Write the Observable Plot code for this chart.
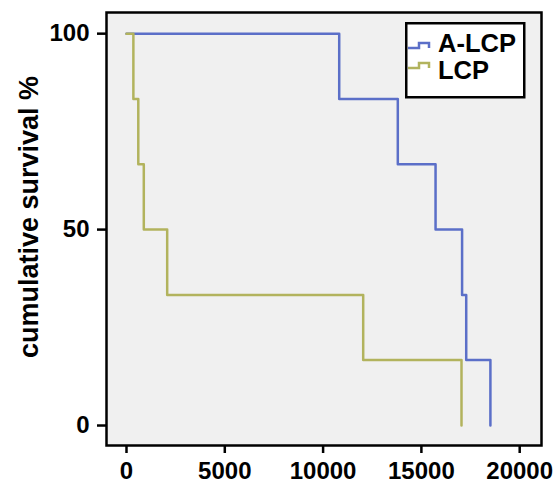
<!DOCTYPE html>
<html><head><meta charset="utf-8">
<script src="https://cdn.jsdelivr.net/npm/d3@7"></script>
<script src="https://cdn.jsdelivr.net/npm/@observablehq/plot@0.6"></script>
<style>
body{margin:0;background:#fff}
#wrap{position:relative;width:555px;height:483px}
#legend{position:absolute;left:405px;top:22px}
</style></head><body><div id="wrap"></div>
<script>
const groups = ["A-LCP", "LCP"];
const colors = ["#5b6fc8", "#b2b35d"];
const aTimes = [0, 10820, 13800, 15720, 17070, 17280, 18510];
const aSurv  = [100, 83.3, 66.7, 50, 33.3, 16.7, 0];
const lTimes = [0, 350, 600, 880, 2070, 12040, 17040];
const lSurv  = [100, 83.3, 66.7, 50, 33.3, 16.7, 0];
const xTicks = [0, 5000, 10000, 15000, 20000];
const yTicks = [0, 50, 100];
const yLabel = "cumulative survival %";

const data = [
  ...aTimes.map((t, i) => ({group: groups[0], time: t, surv: aSurv[i]})),
  ...lTimes.map((t, i) => ({group: groups[1], time: t, surv: lSurv[i]}))
];
const font = "'Liberation Sans', Arial, sans-serif";

const chart = Plot.plot({
  width: 555, height: 483,
  marginLeft: 106, marginRight: 14, marginTop: 12, marginBottom: 38,
  x: {domain: [-1017, 21109]},
  y: {domain: [-5.1, 105.4]},
  color: {domain: groups, range: colors},
  style: {fontFamily: font, fontSize: "24px", fontWeight: "bold", background: "#fff", color: "#000"},
  marks: [
    Plot.frame({fill: "#f0f0f0"}),
    Plot.line(data, {x: "time", y: "surv", stroke: "group", z: "group", curve: "step-after", strokeWidth: 2.5}),
    Plot.frame({stroke: "#000", strokeWidth: 2.5}),
    Plot.axisX({ticks: xTicks, tickFormat: d => String(d), tickSize: 8, tickPadding: 8, strokeWidth: 2.5, label: null}),
    Plot.axisY({ticks: yTicks, tickSize: 9, tickPadding: 8, strokeWidth: 2.5, label: null}),
    Plot.text([yLabel], {text: d => d, frameAnchor: "left", textAnchor: "middle", lineAnchor: "middle", rotate: -90, dx: -77, dy: -12, fontSize: 27, fontWeight: "bold"})
  ]
});
const wrap = document.getElementById("wrap");
wrap.appendChild(chart);

// legend inside the plot area
const ns = "http://www.w3.org/2000/svg";
const lg = document.createElementNS(ns, "svg");
lg.setAttribute("id", "legend");
lg.setAttribute("width", 122);
lg.setAttribute("height", 78);
const icons = ["M3,26 H14 V21 H24 V26", "M3,46 H14 V41 H24 V46"];
const baselines = [30, 56.5];
let html = `<rect x="1.25" y="1.25" width="118" height="74" fill="#fff" stroke="#000" stroke-width="2.5"/>`;
groups.forEach((g, i) => {
  html += `<path d="${icons[i]}" fill="none" stroke="${colors[i]}" stroke-width="2.5"/>`;
  html += `<text x="33" y="${baselines[i]}" font-family="${font.replace(/'/g, "")}" font-size="25.5" font-weight="bold">${g}</text>`;
});
lg.innerHTML = html;
wrap.appendChild(lg);
</script></body></html>
